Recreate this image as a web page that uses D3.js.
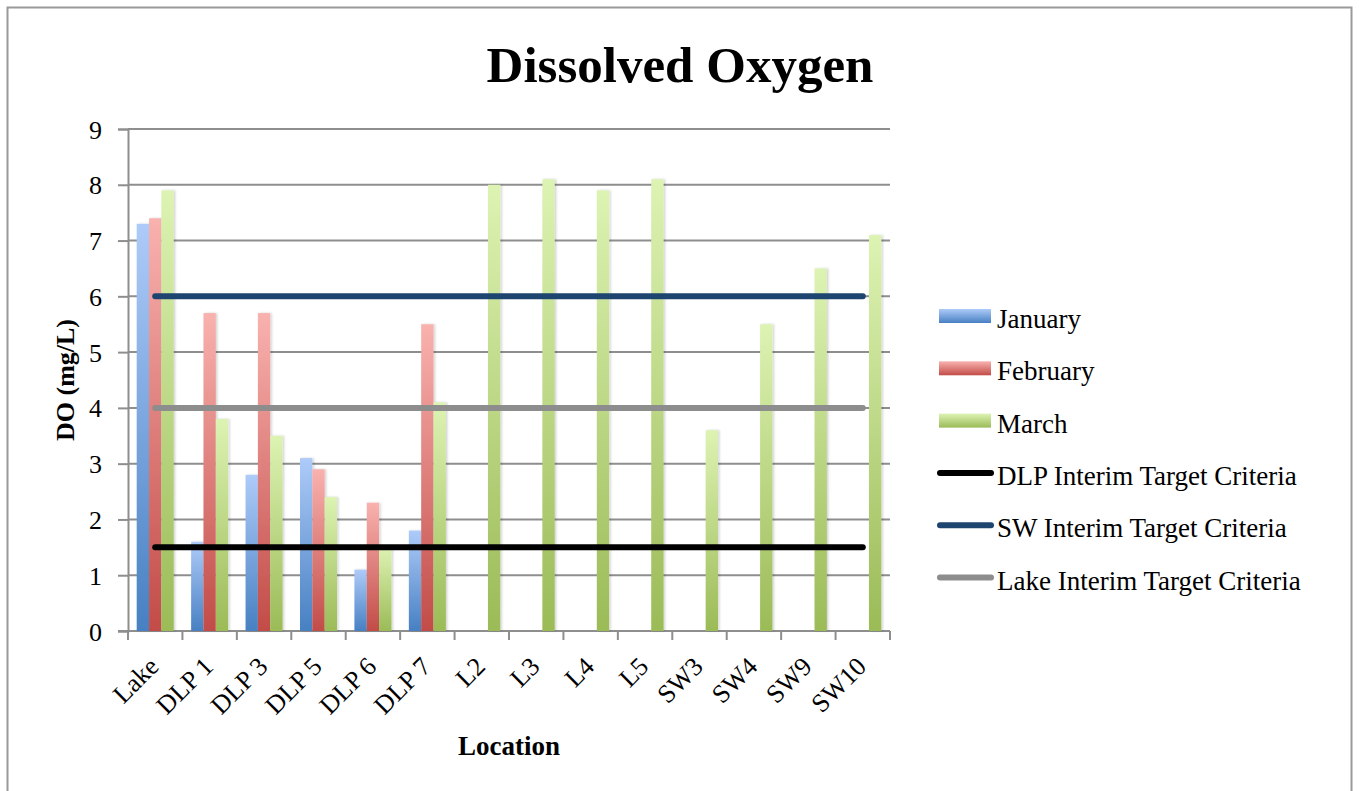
<!DOCTYPE html>
<html>
<head>
<meta charset="utf-8">
<script src="https://cdn.jsdelivr.net/npm/d3@7"></script>
<style>
  html, body { margin: 0; padding: 0; background: #fff; }
  svg { display: block; }
  text { font-family: "Liberation Serif", "Times New Roman", serif; fill: #000; }
</style>
</head>
<body>
<svg id="chart" width="1359" height="791"></svg>
<script>
// ---- data ----
const categories = ["Lake", "DLP 1", "DLP 3", "DLP 5", "DLP 6", "DLP 7", "L2", "L3", "L4", "L5", "SW3", "SW4", "SW9", "SW10"];
const january  = [7.3, 1.6, 2.8, 3.1, 1.1, 1.8, null, null, null, null, null, null, null, null];
const february = [7.4, 5.7, 5.7, 2.9, 2.3, 5.5, null, null, null, null, null, null, null, null];
const march    = [7.9, 3.8, 3.5, 2.4, 1.5, 4.1, 8.0, 8.1, 7.9, 8.1, 3.6, 5.5, 6.5, 7.1];
const barSeries = ["January", "February", "March"];
const dlpTarget  = [1.5, 1.5, 1.5, 1.5, 1.5, 1.5, 1.5, 1.5, 1.5, 1.5, 1.5, 1.5, 1.5, 1.5];
const swTarget   = [6, 6, 6, 6, 6, 6, 6, 6, 6, 6, 6, 6, 6, 6];
const lakeTarget = [4, 4, 4, 4, 4, 4, 4, 4, 4, 4, 4, 4, 4, 4];
const lineSeries = ["DLP Interim Target Criteria", "SW Interim Target Criteria", "Lake Interim Target Criteria"];
const yTicks = [0, 1, 2, 3, 4, 5, 6, 7, 8, 9];

// ---- styles ----
const barGrad = {
  January:  ["#aecbf9", "#4780c2"],
  February: ["#f9b2af", "#c24c48"],
  March:    ["#ddf3b3", "#9bbb57"]
};
const lineColor = {
  "DLP Interim Target Criteria": "#000000",
  "SW Interim Target Criteria": "#1d4570",
  "Lake Interim Target Criteria": "#8d8d8d"
};

const svg = d3.select("#chart");
const defs = svg.append("defs");
Object.entries(barGrad).forEach(([k, c], i) => {
  const g = defs.append("linearGradient").attr("id", "grad" + i)
    .attr("x1", 0).attr("y1", 0).attr("x2", 0).attr("y2", 1);
  g.append("stop").attr("offset", "0%").attr("stop-color", c[0]);
  g.append("stop").attr("offset", "100%").attr("stop-color", c[1]);
});
const shadow = defs.append("filter").attr("id", "shadow")
  .attr("x", "-30%").attr("y", "-5%").attr("width", "160%").attr("height", "110%");
shadow.append("feDropShadow").attr("dx", 1.5).attr("dy", 0).attr("stdDeviation", 1.2)
  .attr("flood-color", "#000").attr("flood-opacity", 0.18);

// outer border
svg.append("rect").attr("x", 7.5).attr("y", 7.5).attr("width", 1344).attr("height", 800)
  .attr("fill", "none").attr("stroke", "#9a9a9a").attr("stroke-width", 2);

const mLeft = 128, mRight = 890, mTop = 129, mBottom = 631;
const x = d3.scaleBand().domain(categories).range([mLeft, mRight]).paddingInner(0.32).paddingOuter(0.16);
const x1 = d3.scaleBand().domain(barSeries).range([0, x.bandwidth()]);
const y = d3.scaleLinear().domain([0, 9]).range([mBottom, mTop]);
const step = x.step();

// gridlines
svg.append("g").selectAll("line").data(yTicks.filter(d => d > 0)).join("line")
  .attr("x1", mLeft).attr("x2", mRight).attr("y1", d => y(d)).attr("y2", d => y(d))
  .attr("stroke", "#8e8e8e").attr("stroke-width", 2);

// y axis
const yAxis = svg.append("g").attr("transform", `translate(${mLeft},0)`)
  .call(d3.axisLeft(y).tickValues(yTicks).tickSize(10).tickPadding(16).tickFormat(d3.format("d")));
yAxis.select(".domain").attr("stroke", "#8e8e8e").attr("stroke-width", 2);
yAxis.selectAll(".tick line").attr("stroke", "#8e8e8e").attr("stroke-width", 2);
yAxis.selectAll(".tick text").attr("font-size", 26).attr("font-family", "Liberation Serif").attr("fill", "#000")
  .attr("dy", "0.35em");

// x axis: line plus boundary ticks
const xg = svg.append("g");
xg.append("line").attr("x1", mLeft - 10).attr("x2", mRight).attr("y1", mBottom).attr("y2", mBottom)
  .attr("stroke", "#8e8e8e").attr("stroke-width", 2);
xg.selectAll("line.tk").data(d3.range(categories.length + 1)).join("line").attr("class", "tk")
  .attr("x1", i => mLeft + i * step).attr("x2", i => mLeft + i * step)
  .attr("y1", mBottom).attr("y2", mBottom + 9)
  .attr("stroke", "#8e8e8e").attr("stroke-width", 2);
xg.selectAll("text").data(categories).join("text")
  .attr("transform", d => `translate(${x(d) + x.bandwidth() / 2 + 5},${mBottom + 37}) rotate(-45)`)
  .attr("text-anchor", "end")
  .attr("font-size", 26).text(d => d);

// bars
const seriesData = [january, february, march];
barSeries.forEach((s, si) => {
  svg.append("g").selectAll("rect")
    .data(categories.map((c, i) => ({ c, v: seriesData[si][i] })).filter(d => d.v != null))
    .join("rect")
    .attr("x", d => x(d.c) + x1(s))
    .attr("width", x1.bandwidth())
    .attr("y", d => y(d.v))
    .attr("height", d => y(0) - y(d.v))
    .attr("fill", `url(#grad${si})`)
    .attr("filter", "url(#shadow)");
});

// target lines
const lineData = [dlpTarget, swTarget, lakeTarget];
const lineGen = d3.line().x((d, i) => x(categories[i]) + x.bandwidth() / 2).y(d => y(d));
lineSeries.forEach((s, si) => {
  svg.append("path").datum(lineData[si])
    .attr("d", lineGen)
    .attr("fill", "none").attr("stroke", lineColor[s]).attr("stroke-width", 6)
    .attr("stroke-linecap", "round");
});

// titles
svg.append("text").attr("x", 680).attr("y", 82).attr("text-anchor", "middle")
  .attr("font-size", 51).attr("font-weight", "bold").text("Dissolved Oxygen");
svg.append("text").attr("x", 509).attr("y", 755).attr("text-anchor", "middle")
  .attr("font-size", 27).attr("font-weight", "bold").text("Location");
svg.append("text").attr("transform", "translate(74,380) rotate(-90)").attr("text-anchor", "middle")
  .attr("font-size", 26).attr("font-weight", "bold").text("DO (mg/L)");

// legend
const legendItems = barSeries.map((s, i) => ({ name: s, type: "bar", i }))
  .concat(lineSeries.map((s, i) => ({ name: s, type: "line", i })));
const lg = svg.append("g");
const rowY = i => 316 + i * 52.3;
legendItems.forEach((d, k) => {
  const cy = rowY(k);
  if (d.type === "bar") {
    lg.append("rect").attr("x", 939).attr("y", cy - 7).attr("width", 52).attr("height", 14)
      .attr("fill", `url(#grad${d.i})`);
  } else {
    lg.append("line").attr("x1", 940).attr("x2", 991).attr("y1", cy).attr("y2", cy)
      .attr("stroke", lineColor[d.name]).attr("stroke-width", 6).attr("stroke-linecap", "round");
  }
  lg.append("text").attr("x", 997).attr("y", cy + 12).attr("font-size", 27).text(d.name);
});
</script>
</body>
</html>
